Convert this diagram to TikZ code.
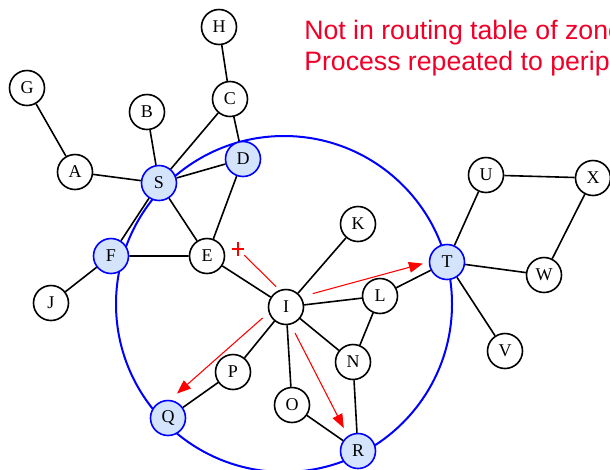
\documentclass[tikz,border=0pt]{standalone}
\usepackage{fontspec}
\setmainfont{Liberation Serif}
\newfontfamily\notefont{Liberation Sans}
\usetikzlibrary{arrows.meta}
\definecolor{zonefill}{RGB}{212,228,252}
\definecolor{notered}{RGB}{240,0,40}

\begin{document}
\begin{tikzpicture}[x=0.75pt,y=-0.75pt,
  host/.style={circle,draw,line width=1.2pt,minimum size=26.25pt,inner sep=0pt,font=\fontsize{13.5}{13.5}\selectfont},
  border/.style={host,draw=blue,fill=zonefill},
  link/.style={line width=1.2pt},
  query/.style={-{Triangle[length=10.5pt,width=8pt]},red,line width=0.8pt},
  note/.style={anchor=base west,inner sep=0pt,text=notered,font=\notefont\fontsize{20}{23}\selectfont}]
 \useasboundingbox (0,0) rectangle (610,469);
 \draw [blue, line width=1.5pt] (284,304) circle [radius=126pt];
 \node [host] (H) at (219,27) {H};
 \node [host] (G) at (27,88) {G};
 \node [host] (B) at (147,112) {B};
 \node [host] (C) at (230,99) {C};
 \node [host] (A) at (75,172) {A};
 \node [border] (S) at (159,183) {S};
 \node [border] (D) at (243,159) {D};
 \node [border] (F) at (111,256) {F};
 \node [host] (E) at (207,256) {E};
 \node [host] (J) at (51,303) {J};
 \node [host] (K) at (358,224) {K};
 \node [host] (I) at (286,307) {I};
 \node [host] (L) at (380,296) {L};
 \node [host] (P) at (233,372) {P};
 \node [host] (N) at (353,362) {N};
 \node [host] (O) at (292,405) {O};
 \node [border] (Q) at (168,418) {Q};
 \node [border] (R) at (358,451) {R};
 \node [border] (T) at (447,262) {T};
 \node [host] (U) at (486,175) {U};
 \node [host] (X) at (593,178) {X};
 \node [host] (W) at (544,275) {W};
 \node [host] (V) at (505,351) {V};
 \draw [link] (G) -- (A) (A) -- (S) (B) -- (S) (C) -- (S) (H) -- (C) (C) -- (D);
 \draw [link] (S) -- (D) (S) -- (E) (S) -- (F) (F) -- (E) (F) -- (J) (D) -- (E);
 \draw [link] (E) -- (I) (I) -- (K) (I) -- (L) (L) -- (T) (L) -- (N) (I) -- (N);
 \draw [link] (I) -- (P) (I) -- (O) (P) -- (Q) (O) -- (R) (N) -- (R);
 \draw [link] (T) -- (U) (U) -- (X) (X) -- (W) (T) -- (W) (T) -- (V);
 \draw [query, shorten <=9pt, shorten >=4.5pt] (I.34) -- (T.west);
 \draw [query, shorten <=6pt, shorten >=7pt] (I.198) -- (Q.84);
 \draw [query, shorten <=7pt, shorten >=6.5pt] (I.285) -- (R.124);
 \node [minimum width=9pt, minimum height=9.5pt, inner sep=0pt] (cut) at (238,249) {};
 \draw [red, line width=0.8pt] (cut.north) -- (cut.south) (cut.west) -- (cut.east);
 \draw [red, line width=0.8pt, shorten <=3.5pt] (I.111) -- (cut);
 \node [note] (note1) at (304,39) {Not in routing table of zone};
 \node [note] (note2) at (304,70) {Process repeated to perip};
\end{tikzpicture}
\end{document}
